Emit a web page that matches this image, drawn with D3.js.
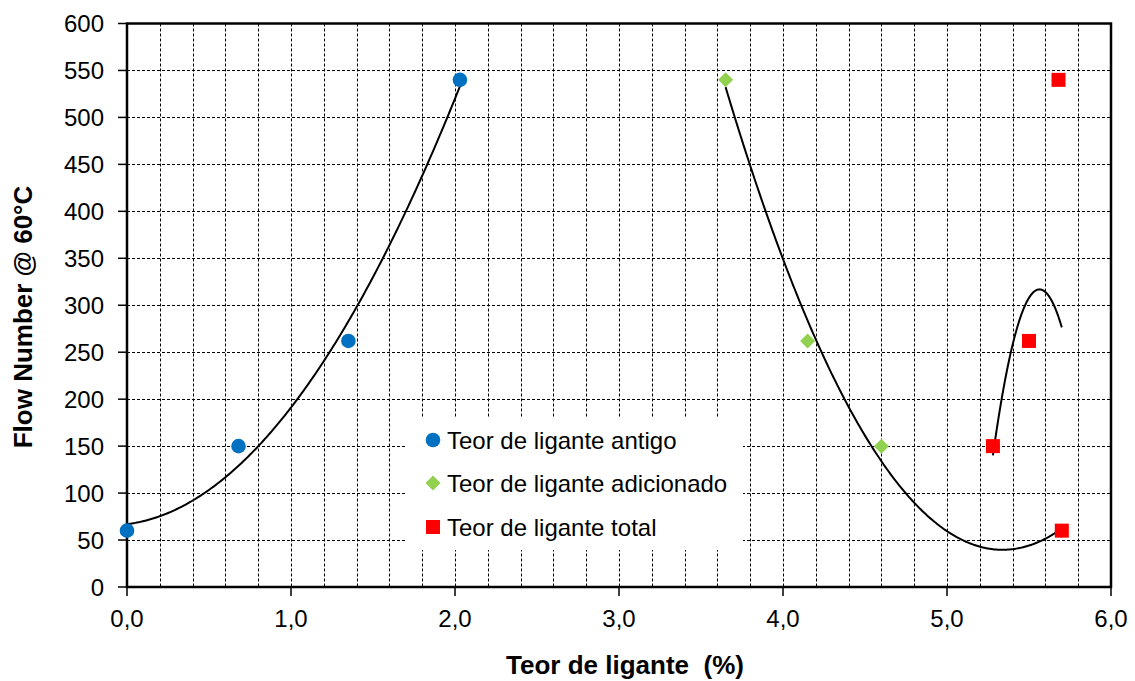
<!DOCTYPE html>
<html>
<head>
<meta charset="utf-8">
<script src="https://cdn.jsdelivr.net/npm/d3@7"></script>
<style>
  html, body { margin: 0; padding: 0; background: #fff; }
  svg { display: block; font-family: Arial, "Liberation Sans", sans-serif; }
</style>
</head>
<body>
<svg id="chart" width="1135" height="681"></svg>
<script>
// ---- data ----
const antigoX = [0.0, 0.68, 1.35, 2.03];
const antigoY = [60, 150, 262, 540];
const adicionadoX = [3.65, 4.15, 4.6, 5.7];
const adicionadoY = [540, 262, 150, 60];
const totalX = [5.28, 5.5, 5.68, 5.7];
const totalY = [150, 262, 540, 60];
const seriesNames = ["Teor de ligante antigo", "Teor de ligante adicionado", "Teor de ligante total"];
const xTicks = [0, 1, 2, 3, 4, 5, 6];
const yTicks = [0, 50, 100, 150, 200, 250, 300, 350, 400, 450, 500, 550, 600];
const xTitle = "Teor de ligante  (%)";
const yTitle = "Flow Number @ 60°C";

// ---- layout ----
const L = 127, R = 1111, T = 23.5, B = 587;
const svg = d3.select("#chart");
const x = d3.scaleLinear().domain([0, 6]).range([L, R]);
const y = d3.scaleLinear().domain([0, 600]).range([B, T]);

const colors = ["#0070C0", "#92D050", "#FF0000"];
const diamond = "M0,-7.5L7.5,0L0,7.5L-7.5,0Z";

// ---- grid ----
const g = svg.append("g");
const minorX = d3.range(1, 30).map(i => i * 0.2);
g.selectAll("line.vg").data(minorX).join("line")
  .attr("x1", d => Math.round(x(d)) + 0.5).attr("x2", d => Math.round(x(d)) + 0.5)
  .attr("y1", T).attr("y2", B)
  .attr("stroke", "#000").attr("stroke-width", 1).attr("stroke-dasharray", "3,2");
g.selectAll("line.hg").data(yTicks.filter(d => d > 0 && d < 600)).join("line")
  .attr("x1", L).attr("x2", R)
  .attr("y1", d => Math.round(y(d)) + 0.5).attr("y2", d => Math.round(y(d)) + 0.5)
  .attr("stroke", "#000").attr("stroke-width", 1).attr("stroke-dasharray", "3,2");

// ---- legend box (covers grid) ----
const leg = svg.append("g");
leg.append("rect").attr("x", 407).attr("y", 418).attr("width", 336).attr("height", 132).attr("fill", "#fff");
const rowsY = [440, 483, 527];
seriesNames.forEach((name, i) => {
  const cy = rowsY[i];
  if (i === 0) leg.append("circle").attr("cx", 433).attr("cy", cy).attr("r", 7.3).attr("fill", colors[0]);
  if (i === 1) leg.append("path").attr("d", diamond).attr("transform", `translate(433,${cy})`).attr("fill", colors[1]);
  if (i === 2) leg.append("rect").attr("x", 426).attr("y", cy - 7).attr("width", 14).attr("height", 14).attr("fill", colors[2]);
  leg.append("text").attr("x", 447).attr("y", cy + 8.5).attr("font-size", 24).attr("fill", "#000").text(name);
});

// ---- axes frame ----
svg.append("rect").attr("x", L).attr("y", T).attr("width", R - L).attr("height", B - T)
  .attr("fill", "none").attr("stroke", "#000").attr("stroke-width", 2.5);

// y ticks
const yAxis = svg.append("g");
yAxis.selectAll("line").data(yTicks).join("line")
  .attr("x1", L - 9).attr("x2", L).attr("y1", d => y(d)).attr("y2", d => y(d))
  .attr("stroke", "#000").attr("stroke-width", 1.5);
yAxis.selectAll("text").data(yTicks).join("text")
  .attr("x", 104).attr("y", d => y(d) + 8.5).attr("text-anchor", "end")
  .attr("font-size", 24).text(d => d);

// x ticks
const fmt = d => d3.format(".1f")(d).replace(".", ",");
const xAxis = svg.append("g");
xAxis.selectAll("line").data(xTicks).join("line")
  .attr("x1", d => x(d)).attr("x2", d => x(d)).attr("y1", B).attr("y2", B + 9)
  .attr("stroke", "#000").attr("stroke-width", 1.5);
xAxis.selectAll("text").data(xTicks).join("text")
  .attr("x", d => x(d)).attr("y", 627).attr("text-anchor", "middle")
  .attr("font-size", 24).text(fmt);

// titles
svg.append("text").attr("x", 625).attr("y", 674).attr("text-anchor", "middle")
  .style("white-space", "pre").attr("xml:space", "preserve")
  .attr("font-size", 26).attr("font-weight", "bold").text(xTitle);
svg.append("text").attr("transform", `translate(32,317) rotate(-90)`)
  .attr("text-anchor", "middle").attr("font-size", 26).attr("font-weight", "bold").text(yTitle);

// ---- polynomial (order 2) trendlines ----
function polyFit2(xs, ys) {
  let s0 = xs.length, s1 = 0, s2 = 0, s3 = 0, s4 = 0, t0 = 0, t1 = 0, t2 = 0;
  xs.forEach((xi, i) => {
    const yi = ys[i];
    s1 += xi; s2 += xi * xi; s3 += xi ** 3; s4 += xi ** 4;
    t0 += yi; t1 += xi * yi; t2 += xi * xi * yi;
  });
  const M = [[s4, s3, s2, t2], [s3, s2, s1, t1], [s2, s1, s0, t0]];
  for (let c = 0; c < 3; c++) {
    let p = c;
    for (let r = c + 1; r < 3; r++) if (Math.abs(M[r][c]) > Math.abs(M[p][c])) p = r;
    [M[c], M[p]] = [M[p], M[c]];
    for (let r = 0; r < 3; r++) {
      if (r === c) continue;
      const f = M[r][c] / M[c][c];
      for (let k = c; k < 4; k++) M[r][k] -= f * M[c][k];
    }
  }
  const a = M[0][3] / M[0][0], b = M[1][3] / M[1][1], cc = M[2][3] / M[2][2];
  return v => a * v * v + b * v + cc;
}
const line = d3.line().x(d => x(d[0])).y(d => y(d[1]));
[[antigoX, antigoY], [adicionadoX, adicionadoY], [totalX, totalY]].forEach(([xs, ys]) => {
  const f = polyFit2(xs, ys);
  const lo = d3.min(xs), hi = d3.max(xs);
  const pts = d3.range(0, 201).map(i => { const v = lo + (hi - lo) * i / 200; return [v, f(v)]; });
  svg.append("path").attr("d", line(pts)).attr("fill", "none").attr("stroke", "#000").attr("stroke-width", 2);
});

// ---- markers ----
const pts = svg.append("g");
pts.selectAll("circle").data(d3.zip(antigoX, antigoY)).join("circle")
  .attr("cx", d => x(d[0])).attr("cy", d => y(d[1])).attr("r", 7.3).attr("fill", colors[0]);
pts.selectAll("path.dia").data(d3.zip(adicionadoX, adicionadoY)).join("path")
  .attr("class", "dia").attr("d", diamond)
  .attr("transform", d => `translate(${x(d[0])},${y(d[1])})`).attr("fill", colors[1]);
pts.selectAll("rect.sq").data(d3.zip(totalX, totalY)).join("rect")
  .attr("class", "sq").attr("x", d => x(d[0]) - 7).attr("y", d => y(d[1]) - 7)
  .attr("width", 14).attr("height", 14).attr("fill", colors[2]);
</script>
</body>
</html>
